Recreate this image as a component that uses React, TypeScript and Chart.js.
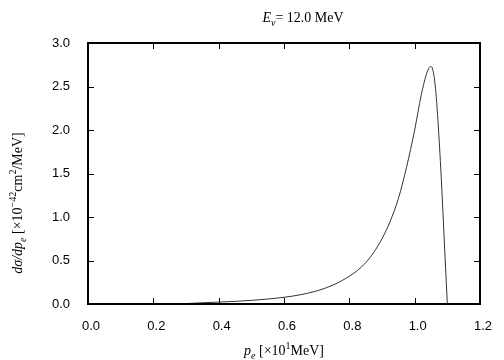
import { useEffect, useRef } from "react";
import { Chart, registerables } from "chart.js";

Chart.register(...registerables);

// electron momentum p_e [x10 MeV]
const momentum = [
  0.3, 0.35, 0.4, 0.45, 0.5, 0.55, 0.6, 0.65, 0.7, 0.725, 0.75, 0.775, 0.8,
  0.825, 0.85, 0.875, 0.9, 0.925, 0.95, 0.975, 1.0, 1.02, 1.035, 1.045, 1.05,
  1.055, 1.06, 1.065, 1.07, 1.08, 1.09, 1.1,
];
// dσ/dp_e [x10^-42 cm^2/MeV]
const crossSection = [
  0.005, 0.014, 0.022, 0.03, 0.042, 0.057, 0.077, 0.106, 0.15, 0.18, 0.218,
  0.264, 0.32, 0.385, 0.475, 0.595, 0.75, 0.95, 1.21, 1.57, 2.0, 2.4, 2.63,
  2.72, 2.73, 2.7, 2.6, 2.43, 2.18, 1.55, 0.78, 0.0,
];
const xTicks = [0, 0.2, 0.4, 0.6, 0.8, 1.0, 1.2];
const yTicks = [0, 0.5, 1.0, 1.5, 2.0, 2.5, 3.0];

type Seg = { t: string; it?: boolean; s?: "sub" | "sup" };

const titleSegs: Seg[] = [
  { t: "E", it: true },
  { t: "ν", it: true, s: "sub" },
  { t: "= 12.0 MeV" },
];
const xLabelSegs: Seg[] = [
  { t: "p", it: true },
  { t: "e", it: true, s: "sub" },
  { t: " [×10" },
  { t: "1", s: "sup" },
  { t: "MeV]" },
];
const yLabelSegs: Seg[] = [
  { t: "dσ/dp", it: true },
  { t: "e", it: true, s: "sub" },
  { t: " [×10" },
  { t: "−42", s: "sup" },
  { t: "cm" },
  { t: "2", s: "sup" },
  { t: "/MeV]" },
];

const SERIF = "'Liberation Serif', 'DejaVu Serif', serif";

function drawRich(
  ctx: CanvasRenderingContext2D,
  segs: Seg[],
  cx: number,
  baseY: number,
  size: number
) {
  const fontFor = (sg: Seg) => {
    const sz = sg.s ? size * 0.72 : size;
    return `${sg.it ? "italic " : ""}${sz}px ${SERIF}`;
  };
  let total = 0;
  const widths = segs.map((sg) => {
    ctx.font = fontFor(sg);
    const w = ctx.measureText(sg.t).width;
    total += w;
    return w;
  });
  let x = cx - total / 2;
  ctx.textBaseline = "alphabetic";
  ctx.textAlign = "left";
  ctx.fillStyle = "#000";
  segs.forEach((sg, i) => {
    ctx.font = fontFor(sg);
    const dy = sg.s === "sub" ? size * 0.25 : sg.s === "sup" ? -size * 0.4 : 0;
    ctx.fillText(sg.t, x, baseY + dy);
    x += widths[i];
  });
}

const framePlugin = {
  id: "framePlugin",
  afterDraw(chart: any) {
    const { ctx, chartArea: a, scales } = chart;
    const xs = scales.x;
    const ys = scales.y;
    ctx.save();
    ctx.strokeStyle = "#000";
    ctx.lineWidth = 1;
    const tl = 6;
    ctx.beginPath();
    xTicks.forEach((v) => {
      const px = Math.round(xs.getPixelForValue(v)) + 0.5;
      ctx.moveTo(px, a.bottom);
      ctx.lineTo(px, a.bottom - tl);
      ctx.moveTo(px, a.top);
      ctx.lineTo(px, a.top + tl);
    });
    yTicks.forEach((v) => {
      const py = Math.round(ys.getPixelForValue(v)) + 0.5;
      ctx.moveTo(a.left, py);
      ctx.lineTo(a.left + tl, py);
      ctx.moveTo(a.right, py);
      ctx.lineTo(a.right - tl, py);
    });
    ctx.stroke();
    ctx.lineWidth = 2;
    ctx.strokeRect(a.left, a.top, a.right - a.left, a.bottom - a.top);

    drawRich(ctx, titleSegs, 303, 22, 14);
    drawRich(ctx, xLabelSegs, (a.left + a.right) / 2, 355, 14);
    ctx.save();
    ctx.translate(22, 203);
    ctx.rotate(-Math.PI / 2);
    drawRich(ctx, yLabelSegs, 0, 0, 14);
    ctx.restore();
    ctx.restore();
  },
};

export default function App() {
  const ref = useRef<HTMLCanvasElement | null>(null);
  useEffect(() => {
    if (!ref.current) return;
    const tickFont = { family: "'Liberation Sans', Arial, sans-serif", size: 13 };
    const chart = new Chart(ref.current, {
      type: "line",
      data: {
        datasets: [
          {
            data: momentum.map((x, i) => ({ x, y: crossSection[i] })),
            borderColor: "#333",
            borderWidth: 1,
            pointRadius: 0,
            fill: false,
            cubicInterpolationMode: "monotone",
          },
        ],
      },
      options: {
        animation: false,
        responsive: false,
        layout: { padding: { top: 43, right: 24, left: 0, bottom: 0 } },
        plugins: { legend: { display: false }, tooltip: { enabled: false } },
        scales: {
          x: {
            type: "linear",
            min: 0,
            max: 1.2,
            afterBuildTicks: (s: any) => {
              s.ticks = xTicks.map((v) => ({ value: v }));
            },
            afterFit: (s: any) => {
              s.height = 56;
            },
            ticks: {
              callback: (v: any) => Number(v).toFixed(1),
              font: tickFont,
              color: "#000",
              padding: 7,
              maxRotation: 0,
              labelOffset: 3,
            },
            grid: { display: false },
            border: { display: false },
          },
          y: {
            type: "linear",
            min: 0,
            max: 3,
            afterBuildTicks: (s: any) => {
              s.ticks = yTicks.map((v) => ({ value: v }));
            },
            afterFit: (s: any) => {
              s.width = 88;
            },
            ticks: {
              callback: (v: any) => Number(v).toFixed(1),
              font: tickFont,
              color: "#000",
              padding: 10,
            },
            grid: { display: false },
            border: { display: false },
          },
        },
      },
      plugins: [framePlugin],
    } as any);
    return () => chart.destroy();
  }, []);
  return (
    <div style={{ position: "fixed", left: 0, top: 0, width: 504, height: 360, background: "#fff" }}>
      <canvas ref={ref} width={504} height={360} />
    </div>
  );
}
